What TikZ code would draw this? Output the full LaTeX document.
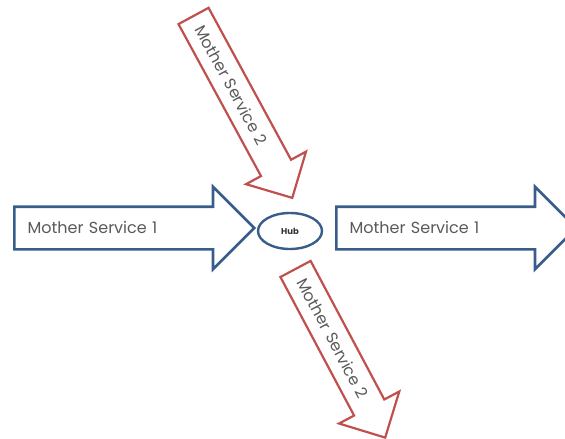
\documentclass[tikz,border=0pt]{standalone}
\usepackage{fontspec}
\setmainfont{Poppins}
\usepackage{tikz}
\usetikzlibrary{shapes.arrows,shapes.geometric}
\definecolor{flowblue}{RGB}{56,93,138}
\definecolor{flowred}{RGB}{192,80,77}
\definecolor{labelgray}{RGB}{90,90,90}
\tikzset{
    flowarrow/.style={
        single arrow,
        draw,
        fill=white,
        anchor=tail,
        single arrow tip angle=90,
        text height=13pt,
        text depth=2pt,
        align=left,
        font=\fontsize{16}{18}\selectfont,
        text=labelgray
    },
    mainflow/.style={
        flowarrow,
        draw=flowblue,
        line width=2.6pt,
        inner xsep=4pt,
        inner ysep=12.5pt,
        single arrow head extend=20pt
    },
    sideflow/.style={
        flowarrow,
        draw=flowred,
        line width=2.2pt,
        inner xsep=4pt,
        inner ysep=8.5pt,
        single arrow head extend=17pt
    },
    hubnode/.style={
        ellipse,
        draw=flowblue,
        line width=2.4pt,
        minimum width=64pt,
        minimum height=36pt,
        inner sep=0pt,
        text=black!80,
        font=\fontsize{8.5}{9}\selectfont\bfseries
    }
}

\begin{document}
\begin{tikzpicture}[x=1pt,y=-1pt]
\useasboundingbox (0,0) rectangle (565,439);
% hub
\node[hubnode] (hub) at (290,231) {Hub};

% services
\node[mainflow, text width=192pt, minimum height=240pt] (in1) at (13,228) {Mother Service 1};
\node[mainflow, text width=192pt, minimum height=240pt] (out1) at (335,228) {Mother Service 1};
\node[sideflow, rotate=-61.5, text width=166pt, minimum height=207pt] (in2) at (193,15) {Mother Service 2};
\node[sideflow, rotate=-62, text width=150pt, minimum height=191pt] (out2) at (295,268) {Mother Service 2};
\end{tikzpicture}
\end{document}
